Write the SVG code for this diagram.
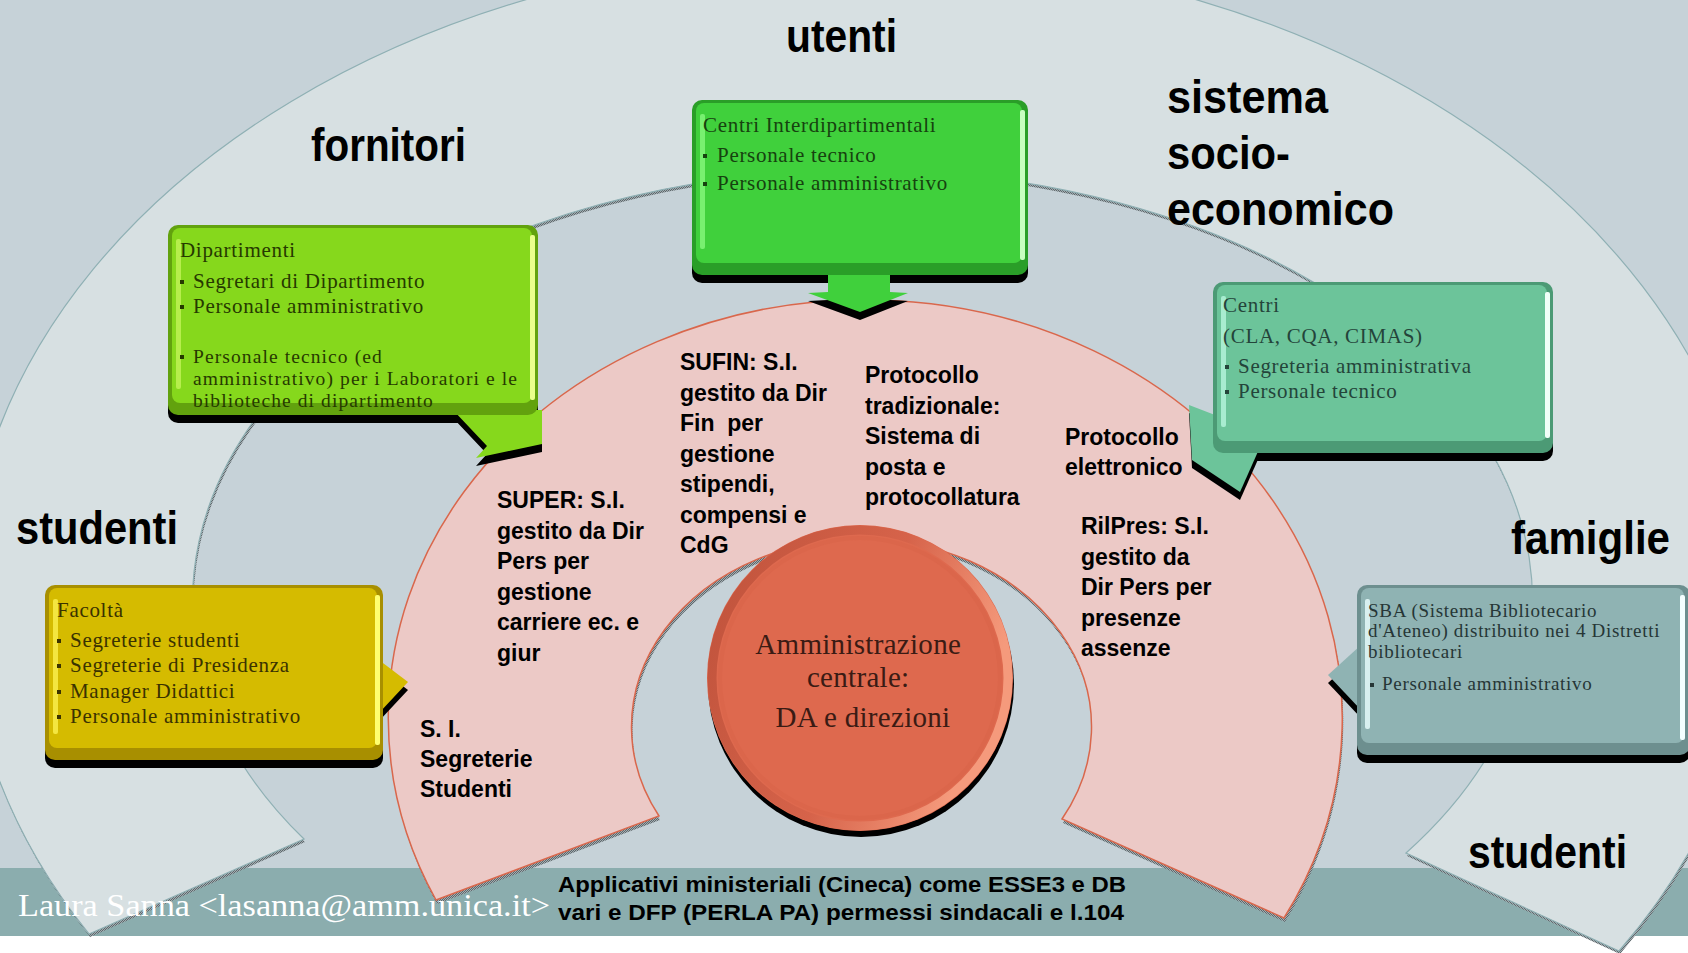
<svg xmlns="http://www.w3.org/2000/svg" width="1688" height="953" viewBox="0 0 1688 953">
  <defs>
    <!-- grainy soft shadow used under the ring shapes -->
    <pattern id="grain" width="2" height="2" patternUnits="userSpaceOnUse">
      <rect width="2" height="2" fill="#a3adb1"/>
      <rect width="1" height="1" fill="#5d676b"/>
      <rect x="1" y="1" width="1" height="1" fill="#5d676b"/>
    </pattern>
    <linearGradient id="coreRim" x1="0" y1="0" x2="1" y2="0.35">
      <stop offset="0" stop-color="#bf523b"/>
      <stop offset="0.6" stop-color="#d6634a"/>
      <stop offset="1" stop-color="#f59a7c"/>
    </linearGradient>
    <style>
      .title { font-family: "Liberation Sans", Arial, sans-serif; font-weight: bold; font-size: 47px; fill: #000; }
      .sys { font-family: "Liberation Sans", Arial, sans-serif; font-weight: bold; font-size: 23px; fill: #000; }
      .box { font-family: "Liberation Serif", "Times New Roman", serif; font-size: 21px; letter-spacing: 0.7px; }
      .tight { font-size: 19.5px; letter-spacing: 1.1px; }
      .sba { font-size: 19px; }
      .core { font-family: "Liberation Serif", "Times New Roman", serif; font-size: 29px; fill: #3a1b14; text-anchor: middle; letter-spacing: 0.3px; }
      .foot { font-family: "Liberation Sans", Arial, sans-serif; font-weight: bold; font-size: 22px; fill: #000; }
      .author { font-family: "Liberation Serif", "Times New Roman", serif; font-size: 31px; fill: #fff; }
      .shadow { fill: #000; }
      .ringshadow { fill: url(#grain); }
      .band { fill: #d7e0e2; stroke: #8fb0b4; stroke-width: 1.2; }
      .pink { fill: #ecc9c6; stroke: #d9674c; stroke-width: 1.5; }

      #node-dipartimenti .rim { fill: #62a20e; }
      #node-dipartimenti .face, #node-dipartimenti .ptr { fill: #86d81c; }
      #node-dipartimenti .hiL { fill: #b6ee4c; }
      #node-dipartimenti .hiR { fill: #eaff8c; }
      #node-dipartimenti text, #node-dipartimenti .bul { fill: #263a00; }

      #node-interdip .rim { fill: #2a9e28; }
      #node-interdip .face, #node-interdip .ptr { fill: #40d03c; }
      #node-interdip .hiL { fill: #78f070; }
      #node-interdip .hiR { fill: #c8ffc0; }
      #node-interdip text, #node-interdip .bul { fill: #16420f; }

      #node-centri .rim { fill: #4c9a75; }
      #node-centri .face, #node-centri .ptr { fill: #6cc49a; }
      #node-centri .hiL { fill: #a8ecd0; }
      #node-centri .hiR { fill: #f0fff8; }
      #node-centri text, #node-centri .bul { fill: #24443a; }

      #node-facolta .rim { fill: #a88f00; }
      #node-facolta .face, #node-facolta .ptr { fill: #d5bb00; }
      #node-facolta .hiL { fill: #f4e640; }
      #node-facolta .hiR { fill: #ffff70; }
      #node-facolta text, #node-facolta .bul { fill: #3a3200; }

      #node-sba .rim { fill: #6d8f8f; }
      #node-sba .face, #node-sba .ptr { fill: #8fb3b3; }
      #node-sba .hiL { fill: #d8f0f0; }
      #node-sba .hiR { fill: #f4ffff; }
      #node-sba text, #node-sba .bul { fill: #263636; }
    </style>
  </defs>

  <!-- backdrop, footer strip -->
  <rect width="1688" height="953" fill="#c6d2d8"/>
  <rect y="868" width="1688" height="68" fill="#8badae"/>
  <rect y="936" width="1688" height="17" fill="#ffffff"/>

  <!-- outer stakeholder ring -->
  <g id="ring-outer">
    <path class="ringshadow" transform="translate(1,3)" d="M 89 934 A 895 652 0 1 1 1619 951 L 1406 853 A 670 431 0 1 0 304 839 Z"/>
    <path class="band" d="M 89 934 A 895 652 0 1 1 1619 951 L 1406 853 A 670 431 0 1 0 304 839 Z"/>
  </g>

  <!-- information systems ring -->
  <g id="ring-systems">
    <path class="ringshadow" transform="translate(1,4)" d="M 436 900 A 477 418 0 1 1 1284 918 L 1062 819 A 230 188 0 1 0 659 816 Z"/>
    <path class="pink" d="M 436 900 A 477 418 0 1 1 1284 918 L 1062 819 A 230 188 0 1 0 659 816 Z"/>
  </g>

  <!-- central administration -->
  <g id="node-core">
    <circle class="shadow" cx="861" cy="684" r="153"/>
    <circle cx="860" cy="678" r="153" fill="#de694e"/>
    <circle cx="860" cy="678" r="148" fill="none" stroke="url(#coreRim)" stroke-width="9"/>
    <circle cx="860" cy="678" r="140" fill="none" stroke="#d8644a" stroke-width="4" opacity="0.6"/>
    <text class="core">
      <tspan x="862" y="654">Amministrazione</tspan>
      <tspan x="862" y="687">centrale:</tspan>
      <tspan x="863" y="727">DA e direzioni</tspan>
    </text>
  </g>

  <!-- Dipartimenti -->
  <g id="node-dipartimenti" transform="translate(168,225)">
    <g class="shadow" transform="translate(0,8)">
      <rect width="370" height="190" rx="10"/>
      <polygon points="285,185 319,221 308,233 374,219 374,185"/>
    </g>
    <polygon class="ptr" points="285,185 319,221 308,233 374,219 374,185"/>
    <rect class="rim" width="370" height="190" rx="10"/>
    <rect class="face" x="4" y="3" width="360" height="175" rx="8"/>
    <rect class="hiL" x="8" y="14" width="5" height="150" rx="2"/>
    <rect class="hiR" x="362" y="10" width="5" height="165" rx="2"/>
    <text class="box" x="12" y="32">Dipartimenti</text>
    <rect class="bul" x="12" y="55" width="4" height="4"/>
    <text class="box" x="25" y="63">Segretari di Dipartimento</text>
    <rect class="bul" x="12" y="80" width="4" height="4"/>
    <text class="box" x="25" y="88">Personale amministrativo</text>
    <rect class="bul" x="12" y="130" width="4" height="4"/>
    <text class="box tight">
      <tspan x="25" y="138">Personale tecnico (ed</tspan>
      <tspan x="25" y="160">amministrativo) per i Laboratori e le</tspan>
      <tspan x="25" y="182">biblioteche di dipartimento</tspan>
    </text>
  </g>

  <!-- Centri Interdipartimentali -->
  <g id="node-interdip" transform="translate(692,100)">
    <g class="shadow" transform="translate(0,8)">
      <rect width="336" height="175" rx="10"/>
      <polygon points="136,170 136,192 116,193 168,212 216,193 198,192 198,170"/>
    </g>
    <polygon class="ptr" points="136,170 136,192 116,193 168,212 216,193 198,192 198,170"/>
    <rect class="rim" width="336" height="175" rx="10"/>
    <rect class="face" x="4" y="3" width="326" height="160" rx="8"/>
    <rect class="hiL" x="8" y="14" width="5" height="135" rx="2"/>
    <rect class="hiR" x="328" y="10" width="5" height="150" rx="2"/>
    <text class="box" x="11" y="32">Centri Interdipartimentali</text>
    <rect class="bul" x="11" y="54" width="4" height="4"/>
    <text class="box" x="25" y="62">Personale tecnico</text>
    <rect class="bul" x="11" y="82" width="4" height="4"/>
    <text class="box" x="25" y="90">Personale amministrativo</text>
  </g>

  <!-- Centri (CLA, CQA, CIMAS) -->
  <g id="node-centri" transform="translate(1213,282)">
    <g class="shadow" transform="translate(0,8)">
      <rect width="340" height="171" rx="10"/>
      <polygon points="2,133 -24,123 -21,178 27,210 47,165"/>
    </g>
    <polygon class="ptr" points="2,133 -24,123 -21,178 27,210 47,165"/>
    <rect class="rim" width="340" height="171" rx="10"/>
    <rect class="face" x="4" y="3" width="330" height="156" rx="8"/>
    <rect class="hiL" x="8" y="14" width="5" height="131" rx="2"/>
    <rect class="hiR" x="332" y="10" width="5" height="146" rx="2"/>
    <text class="box" x="10" y="30">Centri</text>
    <text class="box" x="10" y="61">(CLA, CQA, CIMAS)</text>
    <rect class="bul" x="12" y="83" width="4" height="4"/>
    <text class="box" x="25" y="91">Segreteria amministrativa</text>
    <rect class="bul" x="12" y="108" width="4" height="4"/>
    <text class="box" x="25" y="116">Personale tecnico</text>
  </g>

  <!-- Facolta -->
  <g id="node-facolta" transform="translate(45,585)">
    <g class="shadow" transform="translate(0,8)">
      <rect width="338" height="175" rx="10"/>
      <polygon points="334,75 363,97 334,128"/>
    </g>
    <polygon class="ptr" points="334,75 363,97 334,128"/>
    <rect class="rim" width="338" height="175" rx="10"/>
    <rect class="face" x="4" y="3" width="328" height="160" rx="8"/>
    <rect class="hiL" x="8" y="14" width="5" height="135" rx="2"/>
    <rect class="hiR" x="330" y="10" width="5" height="150" rx="2"/>
    <text class="box" x="12" y="32">Facoltà</text>
    <rect class="bul" x="12" y="54" width="4" height="4"/>
    <text class="box" x="25" y="62">Segreterie studenti</text>
    <rect class="bul" x="12" y="79" width="4" height="4"/>
    <text class="box" x="25" y="87">Segreterie di Presidenza</text>
    <rect class="bul" x="12" y="105" width="4" height="4"/>
    <text class="box" x="25" y="113">Manager Didattici</text>
    <rect class="bul" x="12" y="130" width="4" height="4"/>
    <text class="box" x="25" y="138">Personale amministrativo</text>
  </g>

  <!-- SBA -->
  <g id="node-sba" transform="translate(1357,585)">
    <g class="shadow" transform="translate(0,8)">
      <rect width="333" height="170" rx="10"/>
      <polygon points="4,60 -29,90 4,125"/>
    </g>
    <polygon class="ptr" points="4,60 -29,90 4,125"/>
    <rect class="rim" width="333" height="170" rx="10"/>
    <rect class="face" x="4" y="3" width="323" height="155" rx="8"/>
    <rect class="hiL" x="8" y="14" width="5" height="130" rx="2"/>
    <rect class="hiR" x="323" y="10" width="5" height="145" rx="2"/>
    <text class="box sba">
      <tspan x="11" y="32">SBA (Sistema Bibliotecario</tspan>
      <tspan x="11" y="52">d'Ateneo) distribuito nei 4 Distretti</tspan>
      <tspan x="11" y="73">bibliotecari</tspan>
    </text>
    <rect class="bul" x="13" y="98" width="4" height="4"/>
    <text class="box sba" x="25" y="105">Personale amministrativo</text>
  </g>

  <!-- stakeholder labels -->
  <g id="labels">
    <text class="title" x="786" y="52" textLength="111" lengthAdjust="spacingAndGlyphs">utenti</text>
    <text class="title" x="311" y="161" textLength="155" lengthAdjust="spacingAndGlyphs">fornitori</text>
    <text class="title" x="1167" y="113" textLength="161" lengthAdjust="spacingAndGlyphs">sistema</text>
    <text class="title" x="1167" y="169" textLength="123" lengthAdjust="spacingAndGlyphs">socio-</text>
    <text class="title" x="1167" y="225" textLength="227" lengthAdjust="spacingAndGlyphs">economico</text>
    <text class="title" x="16" y="544" textLength="162" lengthAdjust="spacingAndGlyphs">studenti</text>
    <text class="title" x="1511" y="554" textLength="159" lengthAdjust="spacingAndGlyphs">famiglie</text>
    <text class="title" x="1468" y="868" textLength="159" lengthAdjust="spacingAndGlyphs">studenti</text>
  </g>

  <!-- information systems -->
  <g id="systems">
    <text class="sys">
      <tspan x="680" y="370">SUFIN: S.I.</tspan>
      <tspan x="680" y="400.5">gestito da Dir</tspan>
      <tspan x="680" y="431" xml:space="preserve">Fin  per</tspan>
      <tspan x="680" y="461.5">gestione</tspan>
      <tspan x="680" y="492">stipendi,</tspan>
      <tspan x="680" y="522.5">compensi e</tspan>
      <tspan x="680" y="553">CdG</tspan>
    </text>
    <text class="sys">
      <tspan x="865" y="383">Protocollo</tspan>
      <tspan x="865" y="413.5">tradizionale:</tspan>
      <tspan x="865" y="444">Sistema di</tspan>
      <tspan x="865" y="474.5">posta e</tspan>
      <tspan x="865" y="505">protocollatura</tspan>
    </text>
    <text class="sys">
      <tspan x="497" y="508">SUPER: S.I.</tspan>
      <tspan x="497" y="538.5">gestito da Dir</tspan>
      <tspan x="497" y="569">Pers per</tspan>
      <tspan x="497" y="599.5">gestione</tspan>
      <tspan x="497" y="630">carriere ec. e</tspan>
      <tspan x="497" y="660.5">giur</tspan>
    </text>
    <text class="sys">
      <tspan x="420" y="737">S. I.</tspan>
      <tspan x="420" y="767">Segreterie</tspan>
      <tspan x="420" y="797">Studenti</tspan>
    </text>
    <text class="sys">
      <tspan x="1065" y="445">Protocollo</tspan>
      <tspan x="1065" y="475">elettronico</tspan>
    </text>
    <text class="sys">
      <tspan x="1081" y="534">RilPres: S.I.</tspan>
      <tspan x="1081" y="564.5">gestito da</tspan>
      <tspan x="1081" y="595">Dir Pers per</tspan>
      <tspan x="1081" y="625.5">presenze</tspan>
      <tspan x="1081" y="656">assenze</tspan>
    </text>
  </g>

  <!-- footer -->
  <g id="footer">
    <text class="author" x="18" y="916" textLength="532" lengthAdjust="spacingAndGlyphs">Laura Sanna &lt;lasanna@amm.unica.it&gt;</text>
    <text class="foot" x="558" y="892" textLength="568" lengthAdjust="spacingAndGlyphs">Applicativi ministeriali (Cineca) come ESSE3 e DB</text>
    <text class="foot" x="558" y="920" textLength="566" lengthAdjust="spacingAndGlyphs">vari e DFP (PERLA PA) permessi sindacali e l.104</text>
  </g>
</svg>
